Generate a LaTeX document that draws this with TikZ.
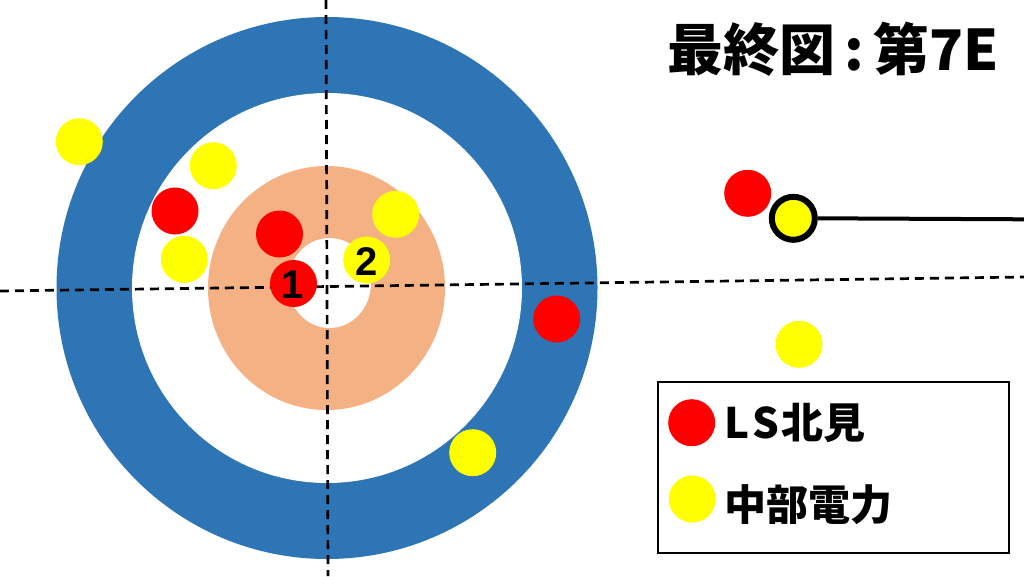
\documentclass[tikz,border=0pt]{standalone}
\usepackage{fontspec}
\setmainfont{Liberation Sans}
\newfontfamily\cjk{Noto Sans CJK JP}
\definecolor{ringblue}{HTML}{2E75B6}
\definecolor{ringorange}{HTML}{F4B183}
\definecolor{stonered}{HTML}{FF0000}
\definecolor{stoneyellow}{HTML}{FFFF00}
\begin{document}
\begin{tikzpicture}[x=1pt,y=-1pt,
  stone/.style={circle,inner sep=0pt,minimum size=47pt,draw=none},
  redstone/.style={stone,fill=stonered},
  yellowstone/.style={stone,fill=stoneyellow},
  guide/.style={black,line width=2.7pt,dash pattern=on 9pt off 6pt},
  num/.style={font=\fontsize{40}{40}\selectfont\bfseries,text=black,inner sep=0pt},
  legtext/.style={font=\cjk\bfseries\fontsize{42}{42}\selectfont,anchor=west,inner sep=0pt}]
\useasboundingbox (0,0) rectangle (1024,576);
\fill[white] (0,0) rectangle (1024,576);
% house
\fill[ringblue] (327,288) ellipse [x radius=270.5pt, y radius=271pt];
\fill[white] (327,288) ellipse [x radius=195pt, y radius=195pt];
\fill[ringorange] (326.5,288) ellipse [x radius=118.5pt, y radius=122pt];
\fill[white] (329.5,283) ellipse [x radius=41.5pt, y radius=45pt];
% guide lines
\coordinate (vtop) at (326,0);
\coordinate (vbot) at (328,576);
\coordinate (hleft) at (0,291);
\coordinate (hright) at (1024,277);
\draw[guide] (vtop) -- (vbot);
\draw[guide] (hleft) -- (hright);
% stones
\node[redstone] (r1) at (293.5,283.5) {};
\node[num] (n1) at (293,285) {1};
\node[yellowstone] (y2) at (366.7,260) {};
\node[num] (n2) at (367,262) {2};
\node[redstone] (r2) at (279.5,234) {};
\node[yellowstone] (y3) at (395.7,214.3) {};
\node[yellowstone] (y4) at (79.3,141.7) {};
\node[yellowstone] (y5) at (213.3,165.7) {};
\node[redstone] (r3) at (175,211) {};
\node[yellowstone] (y6) at (184.3,259.3) {};
\node[redstone] (r4) at (556.7,319) {};
\node[yellowstone] (y7) at (472.7,452.7) {};
\node[redstone] (r5) at (747.7,193.3) {};
\node[yellowstone] (y8) at (799,344.3) {};
\node[stone,fill=stoneyellow,draw=black,line width=6pt,minimum size=43pt] (ys) at (793.3,218.3) {};
\coordinate (lineend) at (1024,219.3);
\draw[black,line width=4pt] (ys.east) -- (lineend);
% title
\node[font=\cjk\bfseries\fontsize{56}{56}\selectfont,anchor=west,inner sep=0pt] (title) at (667,49) {最終図\,:\,第7E};
% legend
\node[draw=black,line width=2pt,minimum width=351pt,minimum height=171pt,inner sep=0pt] (legend) at (833,467.5) {};
\node[redstone] (lr) at (691.7,422.7) {};
\node[yellowstone] (ly) at (692.3,499) {};
\node[legtext] (lt1) at (724,423) {L\kern3pt S\kern2pt 北見};
\node[legtext] (lt2) at (724,505) {中部電力};
\end{tikzpicture}
\end{document}
